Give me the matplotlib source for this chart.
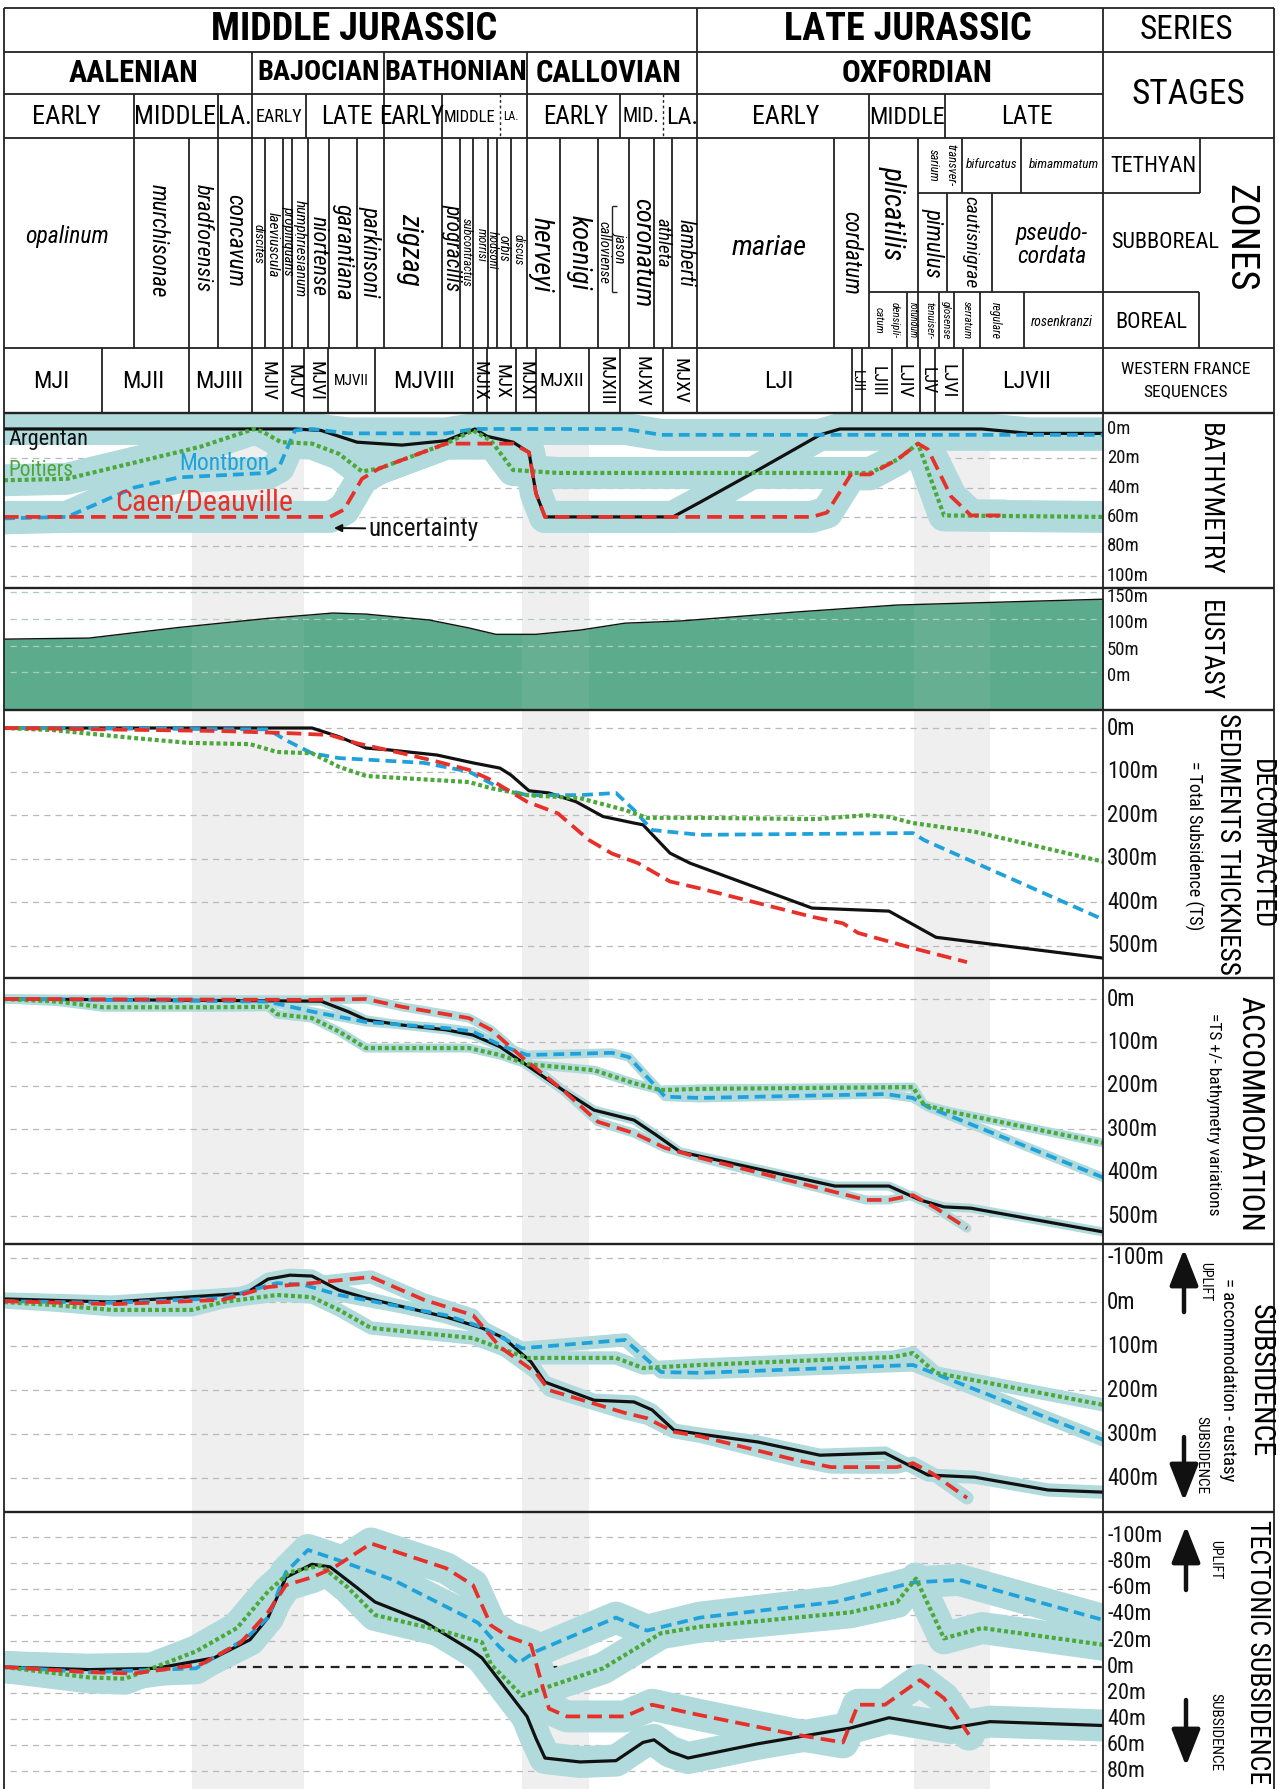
import matplotlib
matplotlib.use("Agg")
import matplotlib.pyplot as plt
from matplotlib import font_manager as fm

# ---------------------------------------------------------------- fonts
_avail = {f.name for f in fm.fontManager.ttflist}


def _pick(cands, default):
    for c in cands:
        if c in _avail:
            return c
    return default


FONT = _pick(["Liberation Sans Narrow", "Roboto Condensed", "DejaVu Sans Condensed",
              "Open Sans Condensed"], "Liberation Sans")
NARROW = FONT != "Liberation Sans"
FS = 1.0 if NARROW else 0.82
plt.rcParams["font.family"] = [FONT, "DejaVu Sans"]

# ---------------------------------------------------------------- colours
RED = "#e8302a"
BLUE = "#1fa2dc"
GREEN = "#4ca83a"
BLACK = "#111111"
BAND = "#b0dadb"
GREYBAND = "#efefef"
EUST = "#5dab8d"
FRAME = "#222222"

# ---------------------------------------------------------------- stratigraphy (positions on the time scale)
series_names = ["MIDDLE JURASSIC", "LATE JURASSIC"]
series_bounds = [4, 697, 1103]
stage_names = ["AALENIAN", "BAJOCIAN", "BATHONIAN", "CALLOVIAN", "OXFORDIAN"]
stage_bounds = [4, 252, 384, 527, 697, 1103]
substage_names = ["EARLY", "MIDDLE", "LA.", "EARLY", "LATE", "EARLY", "MIDDLE", "LA.",
                  "EARLY", "MID.", "LA.", "EARLY", "MIDDLE", "LATE"]
substage_bounds = [4, 134, 218, 252, 306, 384, 442, 500, 527, 620, 663, 697, 869, 945, 1103]
substage_dotted = [500, 663]

sequence_names = ["MJI", "MJII", "MJIII", "MJIV", "MJV", "MJVI", "MJVII", "MJVIII", "MJIX",
                  "MJX", "MJXI", "MJXII", "MJXIII", "MJXIV", "MJXV",
                  "LJI", "LJII", "LJIII", "LJIV", "LJV", "LJVI", "LJVII"]
sequence_bounds = [4, 102, 189, 252, 283, 304, 328, 375, 473, 487, 516, 536, 589, 620, 663,
                   697, 852, 862, 892, 920, 935, 963, 1103]

grey_bands = [(192, 304), (522, 589), (914, 990)]

# ---------------------------------------------------------------- bathymetry (m)
bathy_x_argentan = [4, 295, 321, 357, 402, 446, 464, 475, 487, 513, 529, 536, 545, 673, 700,
                    758, 820, 840, 982, 1029, 1104]
bathy_argentan = [0, 0, 1, 9, 11, 8, 3, 0, 5, 9, 16, 44, 60, 60, 50, 28, 4, 0, 0, 3, 3]
bathy_x_montbron = [4, 67, 134, 179, 268, 279, 295, 312, 348, 446, 475, 625, 661, 700, 1104]
bathy_montbron = [61, 60, 40, 33, 30, 26, 1, 0, 3, 3, 0, 0, 4, 4, 4]
bathy_x_poitiers = [4, 67, 134, 201, 254, 263, 281, 312, 339, 362, 379, 446, 473, 491, 513,
                    558, 847, 870, 897, 918, 944, 1104]
bathy_poitiers = [35, 34, 23, 12, 0, 2, 9, 10, 17, 29, 27, 10, 1, 8, 28, 30, 30, 30, 21, 10,
                  59, 60]
bathy_x_caen = [4, 330, 344, 362, 379, 446, 513, 529, 536, 545, 812, 827, 851, 870, 897, 918,
                928, 951, 971, 1004]
bathy_caen = [60, 60, 55, 34, 27, 10, 10, 16, 44, 60, 60, 57, 31, 31, 21, 10, 14, 46, 59, 59]

# ---------------------------------------------------------------- eustasy (m)
eustasy_x = [4, 89, 179, 268, 333, 366, 429, 469, 496, 536, 580, 625, 680, 796, 897, 1104]
eustasy = [62, 64, 84, 101, 111, 109, 98, 83, 71, 71, 79, 92, 96, 113, 126, 137]

# ---------------------------------------------------------------- decompacted thickness (m)
dec_x_argentan = [4, 312, 339, 366, 388, 437, 473, 500, 511, 529, 549, 576, 603, 634, 643, 670,
                  690, 812, 889, 936, 971, 1104]
dec_argentan = [0, 0, 20, 46, 50, 62, 80, 92, 108, 144, 149, 169, 203, 218, 222, 287, 310, 413,
                420, 480, 490, 528]
dec_x_montbron = [4, 268, 286, 312, 339, 424, 469, 500, 527, 580, 616, 634, 652, 700, 913, 924,
                  1104]
dec_montbron = [0, 3, 28, 58, 69, 80, 100, 138, 154, 154, 149, 188, 234, 245, 241, 257, 440]
dec_x_poitiers = [4, 54, 134, 188, 250, 277, 312, 339, 366, 469, 491, 527, 580, 625, 647, 700,
                  816, 866, 889, 913, 975, 1104]
dec_poitiers = [0, 5, 23, 34, 37, 55, 58, 89, 110, 124, 138, 154, 161, 188, 206, 206, 209, 200,
                204, 218, 238, 307]
dec_x_caen = [4, 223, 290, 330, 357, 402, 437, 469, 491, 527, 558, 589, 612, 638, 670, 700, 812,
              843, 858, 913, 967]
dec_caen = [0, 7, 12, 16, 35, 58, 77, 96, 119, 169, 196, 257, 288, 310, 352, 368, 433, 448, 470,
            505, 537]

# ---------------------------------------------------------------- accommodation (m)
acc_x_argentan = [4, 321, 348, 366, 402, 446, 473, 500, 522, 563, 594, 634, 656, 680, 835, 889,
                  920, 944, 971, 1104]
acc_argentan = [0, 5, 29, 48, 60, 71, 83, 110, 145, 210, 256, 279, 313, 352, 431, 431, 463, 479,
                482, 537]
acc_x_montbron = [4, 268, 312, 366, 446, 473, 500, 527, 612, 629, 665, 700, 885, 913, 928, 1104]
acc_montbron = [0, 6, 29, 53, 67, 75, 106, 129, 124, 134, 225, 228, 219, 228, 249, 412]
acc_x_poitiers = [4, 58, 103, 214, 268, 277, 312, 339, 366, 469, 500, 527, 594, 634, 661, 700,
                  913, 924, 951, 1104]
acc_poitiers = [0, 6, 19, 19, 18, 35, 44, 75, 113, 113, 129, 150, 164, 194, 210, 207, 203, 244,
                260, 332]
acc_x_caen = [4, 312, 366, 402, 469, 491, 522, 563, 598, 634, 665, 700, 866, 889, 913, 936, 967]
acc_caen = [0, 2, 0, 18, 44, 71, 134, 210, 283, 309, 343, 366, 463, 463, 452, 482, 528]

# ---------------------------------------------------------------- subsidence (m)
sub_x_argentan = [4, 112, 246, 268, 290, 312, 339, 366, 446, 482, 504, 531, 545, 594, 634, 652,
                  674, 700, 758, 820, 885, 928, 975, 1048, 1104]
sub_argentan = [-7, 0, -20, -52, -61, -59, -27, -9, 34, 59, 82, 136, 182, 223, 227, 245, 291,
                300, 318, 348, 343, 393, 398, 427, 432]
sub_x_montbron = [4, 112, 223, 277, 304, 339, 446, 482, 522, 625, 661, 700, 913, 951, 1104]
sub_montbron = [-2, 2, -9, -43, -39, -16, 30, 57, 105, 86, 159, 161, 143, 177, 314]
sub_x_poitiers = [4, 54, 112, 192, 223, 277, 312, 339, 371, 473, 500, 527, 616, 643, 700, 893,
                  913, 936, 1104]
sub_poitiers = [0, 7, 18, 18, 0, -16, -11, 18, 59, 82, 105, 127, 127, 150, 143, 125, 116, 161,
                234]
sub_x_caen = [4, 112, 223, 268, 312, 371, 424, 473, 500, 536, 549, 625, 647, 674, 700, 796, 831,
              897, 913, 932, 967]
sub_caen = [-2, 5, -5, -34, -43, -57, -5, 30, 102, 161, 200, 252, 264, 295, 305, 359, 375, 375,
            366, 389, 445]

# ---------------------------------------------------------------- tectonic subsidence (m)
tec_x_argentan = [4, 89, 156, 214, 250, 268, 286, 312, 330, 357, 375, 424, 473, 482, 527, 536,
                  545, 580, 616, 643, 654, 670, 688, 758, 850, 889, 951, 990, 1104]
tec_argentan = [0, 2, 1, -7, -21, -38, -69, -79, -77, -61, -50, -35, -12, -7, 38, 55, 70, 73,
                72, 58, 56, 65, 70, 59, 47, 39, 47, 42, 45]
tec_x_montbron = [4, 89, 196, 246, 268, 286, 308, 339, 393, 478, 500, 518, 536, 616, 647, 700,
                  835, 913, 959, 1104]
tec_montbron = [0, 4, 1, -22, -38, -73, -90, -82, -67, -34, -15, -3, -12, -38, -28, -38, -50,
                -65, -67, -36]
tec_x_poitiers = [4, 89, 125, 196, 237, 268, 290, 321, 348, 375, 446, 482, 491, 522, 603, 661,
                  700, 850, 897, 916, 944, 982, 1104]
tec_poitiers = [0, 8, 9, -12, -30, -58, -73, -78, -61, -40, -27, -19, -2, 22, 1, -26, -31, -42,
                -50, -68, -22, -30, -17]
tec_x_caen = [4, 89, 134, 201, 241, 268, 286, 312, 333, 371, 446, 473, 491, 509, 531, 540, 549,
              567, 625, 652, 700, 796, 843, 858, 885, 920, 944, 969]
tec_caen = [0, 4, 5, -2, -19, -42, -63, -69, -76, -95, -76, -63, -32, -23, -17, 8, 32, 38, 38,
            29, 37, 52, 58, 29, 29, 10, 24, 52]

# ---------------------------------------------------------------- tick labels
bathy_ticks = [0, 20, 40, 60, 80, 100]
eust_ticks = [150, 100, 50, 0]
dec_ticks = [0, 100, 200, 300, 400, 500]
acc_ticks = [0, 100, 200, 300, 400, 500]
sub_ticks = [-100, 0, 100, 200, 300, 400]
tec_ticks = [-100, -80, -60, -40, -20, 0, 20, 40, 60, 80]

# ---------------------------------------------------------------- figure
W, H = 1279, 1789
X0, X1 = 4, 1103
fig = plt.figure(figsize=(W / 100, H / 100), dpi=100)
fig.patch.set_facecolor("white")


def make_panel(top, bottom, v_bottom, v_top):
    ax = fig.add_axes([X0 / W, 1 - bottom / H, (X1 - X0) / W, (bottom - top) / H])
    ax.set_xlim(X0, X1)
    ax.set_ylim(v_bottom, v_top)
    ax.axis("off")
    for a, b in grey_bands:
        ax.axvspan(a, b, color=GREYBAND, lw=0, zorder=0)
    return ax


def grid(ax, vals, color="#b9b9b9"):
    ax.hlines(vals, 10, X1, colors=color, lw=0.9, linestyles=(0, (5, 4)), zorder=1)


def ticks(ax, vals, size, x=1107, shift=0):
    for v in vals:
        ax.text(x, v + shift, f"{v}m", ha="left", va="center", fontsize=size * FS,
                color="#111")


STYLE = {
    "Argentan": dict(color=BLACK, lw=2.3, zorder=3, solid_capstyle="round"),
    "Montbron": dict(color=BLUE, lw=2.7, dashes=(2.9, 1.6), zorder=4),
    "Poitiers": dict(color=GREEN, lw=3.0, dashes=(0.95, 0.7), zorder=5),
    "Caen/Deauville": dict(color=RED, lw=2.7, dashes=(3.9, 1.9), zorder=6),
}


def curves(ax, series, band_lw=None):
    if band_lw:
        for name, xs, ys in series:
            ax.plot(xs, ys, color=BAND, lw=band_lw, solid_capstyle="round",
                    solid_joinstyle="round", zorder=2)
    for name, xs, ys in series:
        ax.plot(xs, ys, **STYLE[name])


# bathymetry
ax_b = make_panel(413, 588, 108.5, -10.9)
grid(ax_b, [20, 40, 60, 80, 100])
curves(ax_b, [("Argentan", bathy_x_argentan, bathy_argentan),
              ("Montbron", bathy_x_montbron, bathy_montbron),
              ("Poitiers", bathy_x_poitiers, bathy_poitiers),
              ("Caen/Deauville", bathy_x_caen, bathy_caen)], band_lw=23)
ticks(ax_b, bathy_ticks, 13.5)

# eustasy
ax_e = make_panel(588, 710, -71, 158)
ax_e.fill_between(eustasy_x, eustasy, -71, color=EUST, lw=0, zorder=1)
ax_e.plot(eustasy_x, eustasy, color=BLACK, lw=1.0, zorder=3)
for a, b in grey_bands:
    ax_e.axvspan(a, b, color="white", alpha=0.06, lw=0, zorder=2)
grid(ax_e, [150, 100, 50, 0], color="#a9cdbd")
ticks(ax_e, eust_ticks, 13.5, shift=-8)

# decompacted sediment thickness
ax_d = make_panel(710, 978, 573.4, -41.3)
grid(ax_d, dec_ticks)
curves(ax_d, [("Argentan", dec_x_argentan, dec_argentan),
              ("Montbron", dec_x_montbron, dec_montbron),
              ("Poitiers", dec_x_poitiers, dec_poitiers),
              ("Caen/Deauville", dec_x_caen, dec_caen)])
ticks(ax_d, dec_ticks, 16.5)

# accommodation
ax_a = make_panel(978, 1244, 564.5, -48.4)
grid(ax_a, acc_ticks)
curves(ax_a, [("Argentan", acc_x_argentan, acc_argentan),
              ("Montbron", acc_x_montbron, acc_montbron),
              ("Poitiers", acc_x_poitiers, acc_poitiers),
              ("Caen/Deauville", acc_x_caen, acc_caen)], band_lw=6.5)
ticks(ax_a, acc_ticks, 16.5)

# subsidence
ax_s = make_panel(1244, 1512, 477, -131.8)
grid(ax_s, sub_ticks)
curves(ax_s, [("Argentan", sub_x_argentan, sub_argentan),
              ("Montbron", sub_x_montbron, sub_montbron),
              ("Poitiers", sub_x_poitiers, sub_poitiers),
              ("Caen/Deauville", sub_x_caen, sub_caen)], band_lw=9.5)
ticks(ax_s, sub_ticks, 16.5)

# tectonic subsidence
ax_t = make_panel(1512, 1789, 93.8, -119.2)
grid(ax_t, [v for v in tec_ticks if v != 0])
ax_t.hlines(0, 4, X1, colors="#222", lw=1.6, linestyles=(0, (4, 3)), zorder=1)
curves(ax_t, [("Argentan", tec_x_argentan, tec_argentan),
              ("Montbron", tec_x_montbron, tec_montbron),
              ("Poitiers", tec_x_poitiers, tec_poitiers),
              ("Caen/Deauville", tec_x_caen, tec_caen)], band_lw=23)
ticks(ax_t, tec_ticks, 16)

# ---------------------------------------------------------------- chart frame and stratigraphic table
ax0 = fig.add_axes([0, 0, 1, 1], zorder=10)
ax0.set_xlim(0, W)
ax0.set_ylim(H, 0)
ax0.axis("off")
ax0.patch.set_alpha(0)

LW = 1.3
XR = 1274


def hl(y, xa, xb, **kw):
    ax0.plot([xa, xb], [y, y], color=FRAME, lw=kw.pop("lw", LW), solid_capstyle="butt", **kw)


def vl(x, ya, yb, **kw):
    ax0.plot([x, x], [ya, yb], color=FRAME, lw=kw.pop("lw", LW), solid_capstyle="butt", **kw)


def txt(x, y, s, size, rot=0, **kw):
    ax0.text(x, y, s, fontsize=size * FS, rotation=rot, ha=kw.pop("ha", "center"),
             va=kw.pop("va", "center"), **kw)


# outer frame and horizontal rows
for y in [8, 52, 138, 348, 413, 588, 710, 978, 1244, 1512]:
    hl(y, X0, XR, lw=1.7 if y >= 413 else LW)
hl(94, X0, X1)
for x in [X0, X1, XR]:
    vl(x, 8, H)

# series row
for b in series_bounds[1:-1]:
    vl(b, 8, 52)
txt(354, 30, series_names[0], 27.5, weight="bold")
txt(908, 30, series_names[1], 27.5, weight="bold")
txt(1186, 30, "SERIES", 24)

# stage row
for b in stage_bounds[1:-1]:
    vl(b, 52, 138)
stage_cx = [134, 319, 456, 609, 917]
stage_fs = [22, 20.5, 20.5, 22, 22.5]
for name, cx, fs in zip(stage_names, stage_cx, stage_fs):
    txt(cx, 73, name, fs, weight="bold")
txt(1188, 95, "STAGES", 25.5)

# substage row
for b in substage_bounds[1:-1]:
    if b in substage_dotted:
        vl(b, 94, 138, ls=(0, (2, 2)), lw=1.0)
    elif b not in stage_bounds:
        vl(b, 94, 138)
sub_cx = [66, 175, 235, 279, 347, 412, 470, 511, 576, 641, 682, 786, 907, 1027]
sub_fs = [19, 19, 18.5, 13, 18, 18, 12, 8.5, 18, 14.5, 17.5, 18.5, 17.5, 18]
for name, cx, fs in zip(substage_names, sub_cx, sub_fs):
    txt(cx, 117, name, fs)

# ammonite zones row
for x in [134, 189, 218, 252, 265, 283, 292, 308, 329, 357, 384, 442, 460, 473, 488, 497, 511,
          527, 560, 598, 629, 654, 672, 697, 834, 869]:
    vl(x, 138, 348)
vl(612, 206, 292, lw=1.0)
hl(206, 612, 617, lw=1.0)
hl(292, 612, 617, lw=1.0)
# Oxfordian sub-rows
vl(918, 138, 292)
vl(962, 138, 193)
vl(1021, 138, 193)
vl(947, 193, 292)
vl(992, 193, 292)
hl(193, 918, 1200)
vl(1200, 138, 193)
hl(292, 869, 1199)
vl(1199, 292, 348)
for x in [907, 918, 939, 954, 980, 1024]:
    vl(x, 292, 348)

zone_it = dict(style="italic")
zones_h = [("opalinum", 67, 237, 17), ("mariae", 769, 248, 20.5),
           ("bifurcatus", 992, 165, 9.5), ("bimammatum", 1064, 165, 9.5),
           ("pseudo-\ncordata", 1052, 245, 17), ("rosenkranzi", 1062, 322, 10)]
for s, x, y, fs in zones_h:
    txt(x, y, s, fs, linespacing=1.0, **zone_it)
zones_v = [("murchisonae", 158, 241, 16.5), ("bradforensis", 202, 238, 16),
           ("concavum", 235, 241, 17), ("discites", 258, 244, 9.5),
           ("laeviuscula", 273, 245, 11), ("propinquans", 288, 241, 10.5),
           ("humphriesianum", 300, 249, 11), ("niortense", 318, 256, 16),
           ("garantiana", 343, 252, 17), ("parkinsoni", 370, 252, 16.5),
           ("zigzag", 410, 249, 21), ("progracilis", 452, 248, 15.5),
           ("subcontractus", 466, 252, 9), ("morrisi", 481, 245, 9),
           ("hodsoni", 492, 250, 9), ("orbis", 504, 248, 10), ("discus", 518, 250, 9),
           ("herveyi", 541, 255, 20), ("koenigi", 579, 253, 19.5),
           ("calloviense", 604, 252, 10.5), ("jason", 620, 247, 10.5),
           ("coronatum", 642, 253, 19), ("athleta", 663, 243, 13.5),
           ("lamberti", 685, 253, 15.5), ("cordatum", 851, 253, 16.5),
           ("plicatilis", 893, 213, 21), ("sarium", 933, 165, 9),
           ("transver-", 951, 165, 9), ("pimulus", 933, 243, 16.5),
           ("cautisnigrae", 970, 242, 14), ("catum", 879, 320, 8),
           ("densipli-", 895, 320, 8), ("rotundum", 913, 320, 7),
           ("tenuiser-", 930, 320, 8), ("glosense", 946, 320, 8),
           ("serratum", 967, 320, 8), ("regulare", 995, 320, 8.5)]
for s, x, y, fs in zones_v:
    txt(x, y, s, fs, rot=-90, **zone_it)

txt(1153, 166, "TETHYAN", 16)
txt(1165, 243, "SUBBOREAL", 16)
txt(1151, 322, "BOREAL", 16)
txt(1240, 238, "ZONES", 28, rot=-90)

# sequence row
for b in sequence_bounds[1:-1]:
    vl(b, 348, 413)
seq_cx = [51, 143, 219, 267, 293, 316, 351, 424, 480, 502, 526, 562, 605, 641, 680,
          779, 857, 878, 904, 928, 948, 1027]
seq_rot = [0, 0, 0, -90, -90, -90, 0, 0, -90, -90, -90, 0, -90, -90, -90,
           0, -90, -90, -90, -90, -90, 0]
seq_fs = [17.5, 17.5, 17.5, 14, 14, 14, 11, 17.5, 14, 14, 14, 14, 14, 14, 14,
          17.5, 11, 13, 14, 13, 14, 17.5]
for s, cx, r, fs in zip(sequence_names, seq_cx, seq_rot, seq_fs):
    txt(cx, 381, s, fs, rot=r)
txt(1186, 370, "WESTERN FRANCE", 12.5)
txt(1186, 392, "SEQUENCES", 12.5)

# curve labels in the bathymetry panel
txt(8, 439, "Argentan", 16, ha="left", color=BLACK)
txt(8, 470, "Poitiers", 15.5, ha="left", color=GREEN)
txt(179, 463, "Montbron", 17, ha="left", color=BLUE)
txt(115, 503, "Caen/Deauville", 21.5, ha="left", color=RED)
ax0.annotate("uncertainty", xy=(334, 528), xytext=(368, 529), ha="left", va="center",
             fontsize=18 * FS, color=BLACK,
             arrowprops=dict(arrowstyle="-|>", lw=1.4, color=BLACK, mutation_scale=11,
                             shrinkA=0, shrinkB=0))

# panel titles in the right column
txt(1209, 499, "BATHYMETRY", 19.5, rot=-90)
txt(1209, 650, "EUSTASY", 19.5, rot=-90)
txt(1261, 844, "DECOMPACTED", 19.5, rot=-90)
txt(1228, 844, "SEDIMENTS THICKNESS", 19.5, rot=-90)
txt(1194, 846, "= Total Subsidence (TS)", 13, rot=-90)
txt(1250, 1114, "ACCOMMODATION", 22.5, rot=-90)
txt(1214, 1114, "=TS +/- bathymetry variations", 12.5, rot=-90)
txt(1261, 1381, "SUBSIDENCE", 21.5, rot=-90)
txt(1228, 1380, "= accommodation - eustasy", 13.5, rot=-90)
txt(1257, 1652, "TECTONIC SUBSIDENCE", 20, rot=-90)


def arrow(x, y_from, y_to):
    ax0.annotate("", xy=(x, y_to), xytext=(x, y_from),
                 arrowprops=dict(arrowstyle="-|>,head_length=1.4,head_width=0.55", lw=3.2,
                                 color=BLACK, mutation_scale=16, shrinkA=0, shrinkB=0))


arrow(1184, 1312, 1249)
arrow(1184, 1437, 1501)
arrow(1186, 1590, 1526)
arrow(1186, 1700, 1766)
txt(1205, 1282, "UPLIFT", 10, rot=-90)
txt(1201, 1455, "SUBSIDENCE", 11, rot=-90)
txt(1215, 1560, "UPLIFT", 10, rot=-90)
txt(1215, 1732, "SUBSIDENCE", 11, rot=-90)

fig.savefig("out.png", dpi=100, facecolor="white")
